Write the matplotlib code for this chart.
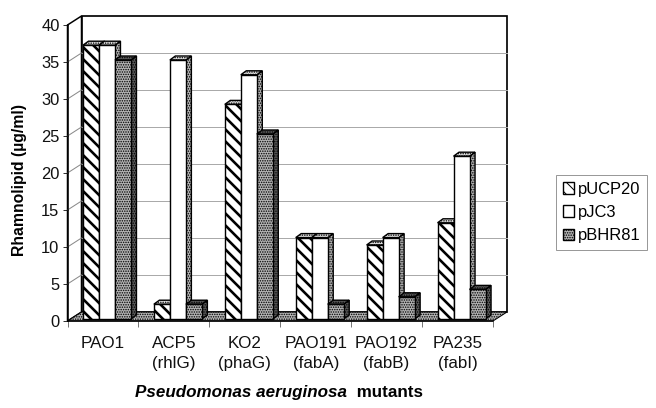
import matplotlib
matplotlib.use('Agg')
import matplotlib.pyplot as plt
import numpy as np

plt.rcParams['font.family'] = ['Liberation Sans', 'DejaVu Sans']

# Data
categories = ['PAO1', 'ACP5\n(rhlG)', 'KO2\n(phaG)', 'PAO191\n(fabA)', 'PAO192\n(fabB)', 'PA235\n(fabI)']
series = ['pUCP20', 'pJC3', 'pBHR81']
pucp20 = [37, 2, 29, 11, 10, 13]
pjc3 = [37, 35, 33, 11, 11, 22]
pbhr81 = [35, 2, 25, 2, 3, 4]
yticks = [0, 5, 10, 15, 20, 25, 30, 35, 40]

W, H = 656, 408
fig = plt.figure(figsize=(W / 72, H / 72), dpi=72)
ax = fig.add_axes([67.5 / W, (H - 321) / H, 425.5 / W, 296 / H])
ax.set_xlim(0, 6)
ax.set_ylim(0, 40)

# pixels -> data
px = 6 / 425.5
py = 40 / 296
wall_dx, wall_dy = 14 * px, 9 * py
base_dx, base_dy = 4 * px, 2 * py
bar_dx, bar_dy = 5.5 * px, 4 * py
bar_w = 16 * px

dots = '.....'
light = '#e0e0e0'
mid = '#b4b4b4'
dark = '#5a5a5a'

# walls and floor
ax.fill([0, wall_dx, wall_dx, 0], [0, wall_dy, 40 + wall_dy, 40], fc='white', ec='black', lw=1.5,
        clip_on=False, zorder=1)
ax.fill([wall_dx, 6 + wall_dx, 6 + wall_dx, wall_dx], [wall_dy, wall_dy, 40 + wall_dy, 40 + wall_dy],
        fc='white', ec='black', lw=1.7, clip_on=False, zorder=1)
for t in yticks[1:-1]:
    ax.plot([wall_dx, 6 + wall_dx], [t + wall_dy, t + wall_dy], color='#aaaaaa', lw=1, clip_on=False, zorder=2)
    ax.plot([0, wall_dx], [t, t + wall_dy], color='#888888', lw=1, clip_on=False, zorder=2)
ax.fill([0, 6, 6 + wall_dx, wall_dx], [0, 0, wall_dy, wall_dy], fc=mid, ec='black', lw=1,
        hatch=dots, clip_on=False, zorder=3)

values = [pucp20, pjc3, pbhr81]
faces = [dict(fc='white', ec='black', hatch='\\\\'), dict(fc='white', ec='black'), dict(fc=mid, ec='black', hatch=dots)]
side_col = [mid, mid, dark]
top_col = [light, light, dark]
bars = []
z = 4
for g in range(len(categories)):
    for s in range(len(series)):
        v = values[s][g]
        x0 = g + 0.5 + base_dx + (s - 1.5) * bar_w
        x1 = x0 + bar_w
        y0 = base_dy
        y1 = base_dy + v
        plt.rcParams['hatch.linewidth'] = 1.0
        ax.fill([x1, x1 + bar_dx, x1 + bar_dx, x1], [y0, y0 + bar_dy, y1 + bar_dy, y1],
                fc=side_col[s], ec='black', lw=1.4, hatch=dots, clip_on=False, zorder=z)
        ax.fill([x0, x1, x1 + bar_dx, x0 + bar_dx], [y1, y1, y1 + bar_dy, y1 + bar_dy],
                fc=top_col[s], ec='black', lw=1.4, hatch=dots, clip_on=False, zorder=z)
        # stripes are thick on the first series only
        plt.rcParams['hatch.linewidth'] = 2.6 if s == 0 else 1.0
        b = ax.bar(x0, v, bar_w, bottom=base_dy, align='edge', linewidth=1.4, clip_on=False, zorder=z + 0.5, **faces[s])
        if g == 0:
            bars.append(b[0])
        z += 1

# axes
for sp in ['top', 'right']:
    ax.spines[sp].set_visible(False)
ax.spines['left'].set_linewidth(1.5)
ax.spines['bottom'].set_linewidth(1.5)
ax.spines['left'].set_zorder(30)
ax.spines['bottom'].set_zorder(30)
ax.set_yticks(yticks)
ax.set_xticks(np.arange(7))
ax.set_xticklabels([])
ax.set_xticks(np.arange(6) + 0.5, minor=True)
ax.set_xticklabels(categories, minor=True, fontsize=17, color='#111111', linespacing=1.4)
ax.tick_params(axis='x', which='major', length=6, width=0.8, color='#555555')
ax.tick_params(axis='x', which='minor', length=0, pad=15)
ax.tick_params(axis='y', length=5, width=0.8, labelsize=16.5, pad=3, labelcolor='#111111')

fig.text(20 / W, 1 - 180 / H, 'Rhamnolipid (µg/ml)', rotation=90, ha='center', va='center',
         fontsize=15.8, fontweight='bold')
fig.text(352 / W, 1 - 397 / H, 'Pseudomonas aeruginosa ', ha='right', va='baseline', fontsize=17,
         fontweight='bold', fontstyle='italic')
fig.text(352 / W, 1 - 397 / H, ' mutants', ha='left', va='baseline', fontsize=17, fontweight='bold')

ax.legend(bars, series, loc='center left', bbox_to_anchor=(556 / W, 1 - 212.5 / H), bbox_transform=fig.transFigure,
          fontsize=16.5, frameon=True, fancybox=False, edgecolor='#999999', framealpha=1, borderaxespad=0,
          handlelength=0.7, handleheight=0.7, handletextpad=0.2, labelspacing=0.5, borderpad=0.4)

fig.savefig('out.png', dpi=72)
